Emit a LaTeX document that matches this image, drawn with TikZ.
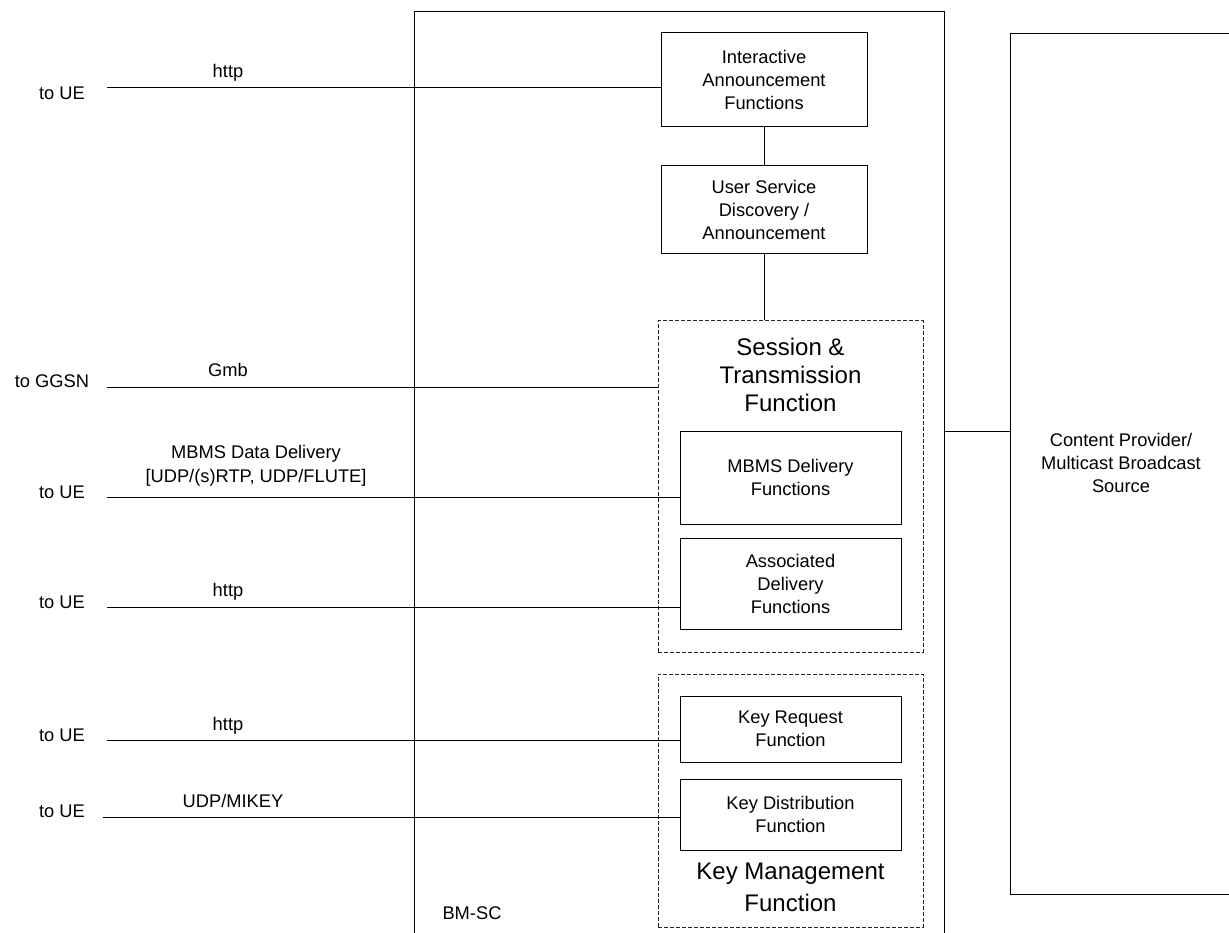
\documentclass[tikz,border=0pt]{standalone}
\usepackage{fontspec}
\setmainfont{Liberation Sans}
\begin{document}
\begin{tikzpicture}[x=1pt,y=-1pt,
  line width=1pt,
  txt/.style={font=\fontsize{18.3}{23}\selectfont, inner sep=0pt},
  bigtxt/.style={font=\fontsize{24}{28}\selectfont, inner sep=0pt, align=center},
  fbox/.style={draw, rectangle, inner sep=0pt, align=center, font=\fontsize{18.3}{23}\selectfont},
  grp/.style={draw=black!85, rectangle, inner sep=0pt, dash pattern=on 4pt off 2pt},
  link/.style={draw=black}]
\useasboundingbox (0,0) rectangle (1229,933);
\clip (0,0) rectangle (1229,933);
% outer boxes
\node[draw, rectangle, inner sep=0pt, minimum width=530pt, minimum height=940pt, anchor=north west] (bmsc) at (414,11) {};
\node[draw, rectangle, inner sep=0pt, minimum width=240pt, minimum height=861pt, anchor=north west] (cp) at (1010,33) {};
\node[txt, align=center] (cptxt) at (1121,463) {Content Provider/\\Multicast Broadcast\\Source};
\node[txt, anchor=base] (bmsclbl) at (472,919) {BM-SC};
% inner function boxes
\node[fbox, minimum width=206pt, minimum height=94pt] (ia) at (764,80) {Interactive\\Announcement\\Functions};
\node[fbox, minimum width=206pt, minimum height=88pt] (usd) at (764,210) {User Service\\Discovery /\\Announcement};
\node[grp, minimum width=265pt, minimum height=331pt] (sess) at (790.5,486.5) {};
\node[bigtxt] (sesstxt) at (790.5,375) {Session \&\\Transmission\\Function};
\node[fbox, minimum width=221pt, minimum height=93pt] (mbms) at (790.5,477.5) {MBMS Delivery\\Functions};
\node[fbox, minimum width=221pt, minimum height=91pt] (assoc) at (790.5,583.5) {Associated\\Delivery\\Functions};
\node[grp, minimum width=265pt, minimum height=253pt] (km) at (790.5,800.5) {};
\node[fbox, minimum width=221pt, minimum height=66pt] (kr) at (790.5,729) {Key Request\\Function};
\node[fbox, minimum width=221pt, minimum height=71pt] (kd) at (790.5,814.5) {Key Distribution\\Function};
\node[bigtxt, font=\fontsize{24}{32}\selectfont] (kmtxt) at (790.5,887) {Key Management\\Function};
% internal connectors
\draw[link] (ia.south) -- (usd.north);
\draw[link] (usd.south) -- (usd.south |- sess.north);
\coordinate (cpl) at (944,431);
\draw[link] (cpl) -- (cpl -| cp.west);
% external interfaces
\coordinate (e1) at (107,88);
\coordinate (e2) at (107,387);
\coordinate (e3) at (107,497);
\coordinate (e4) at (107,607);
\coordinate (e5) at (107,740);
\coordinate (e6) at (103,817);
\draw[link] (e1) -- (e1 -| ia.west);
\draw[link] (e2) -- (e2 -| sess.west);
\draw[link] (e3) -- (e3 -| mbms.west);
\draw[link] (e4) -- (e4 -| assoc.west);
\draw[link] (e5) -- (e5 -| kr.west);
\draw[link] (e6) -- (e6 -| kd.west);
% labels
\node[txt, anchor=base] (t1) at (62,100) {to UE};
\node[txt, anchor=base] (p1) at (228,78) {http};
\node[txt, anchor=base] (t2) at (52,387) {to GGSN};
\node[txt, anchor=base] (p2) at (228,376) {Gmb};
\node[txt, anchor=base] (p3a) at (256,458) {MBMS Data Delivery};
\node[txt, anchor=base] (p3b) at (256,482) {[UDP/(s)RTP, UDP/FLUTE]};
\node[txt, anchor=base] (t3) at (62,498) {to UE};
\node[txt, anchor=base] (p4) at (228,596) {http};
\node[txt, anchor=base] (t4) at (62,608) {to UE};
\node[txt, anchor=base] (p5) at (228,730) {http};
\node[txt, anchor=base] (t5) at (62,741) {to UE};
\node[txt, anchor=base] (p6) at (233,807) {UDP/MIKEY};
\node[txt, anchor=base] (t6) at (62,817) {to UE};
\end{tikzpicture}
\end{document}
